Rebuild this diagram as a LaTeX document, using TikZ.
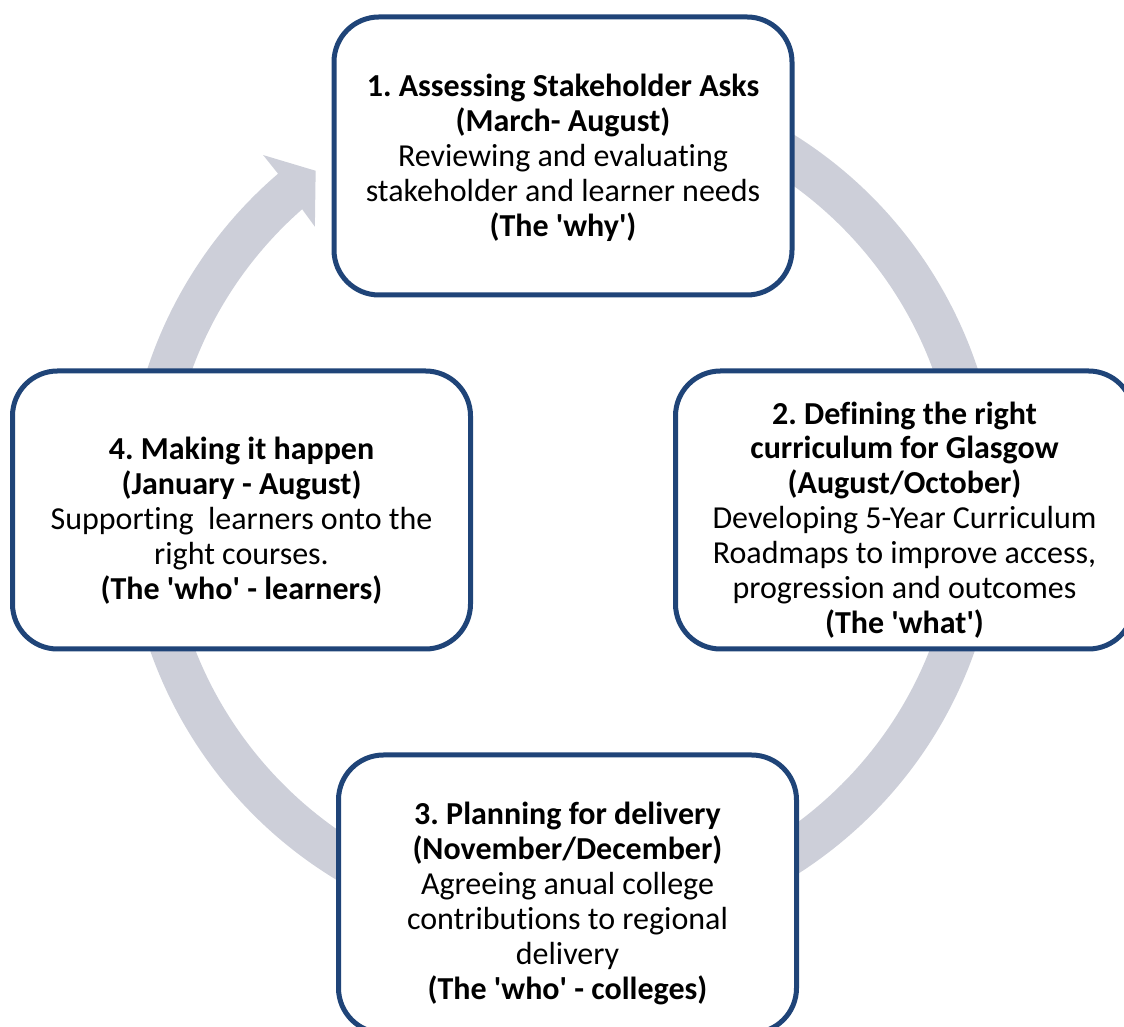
\documentclass[tikz,border=0pt]{standalone}
\usepackage{fontspec}
\setmainfont{Carlito}[Ligatures=NoCommon]
\definecolor{ringc}{RGB}{205,207,217}
\definecolor{boxc}{RGB}{31,68,120}
\newcommand{\sq}{\textquotesingle}
\frenchspacing
\tikzset{
  stage/.style={draw=boxc, line width=5pt, fill=white, rounded corners=45pt,
    minimum width=458pt, minimum height=278pt, inner sep=0pt},
  stagetext/.style={align=center, inner sep=0pt, text=black,
    font=\fontsize{32}{34.9}\selectfont}
}
\begin{document}
\begin{tikzpicture}[x=1pt,y=1pt]
\useasboundingbox (0,0) rectangle (1124,1027);
\clip (0,0) rectangle (1124,1027);
\coordinate (c) at (562.5,521.4);
% cycle ring with arrow head
\fill[ringc, shift={(c)}] (130.5:461) -- (126.4:416) -- (131.6:373) -- (131.3:394.5)
  arc[start angle=131.3, end angle=435, radius=394.5]
  -- (435:437.1)
  arc[start angle=435, end angle=130.6, radius=437.1] -- cycle;
% boxes
\node[stage] (b1) at (563,871) {};
\node[stagetext] (t1) at (563,869) {\textbf{1. Assessing Stakeholder Asks}\\\textbf{(March- August)}\\Reviewing and evaluating\\stakeholder and learner needs\\\textbf{(The \sq why\sq)}};
\node[stage] (b2) at (904.5,517) {};
\node[stagetext] (t2) at (904.5,507) {\textbf{2. Defining the right}\\\textbf{curriculum for Glasgow}\\\textbf{(August/October)}\\Developing 5-Year Curriculum\\Roadmaps to improve access,\\progression and outcomes\\\textbf{(The \sq what\sq)}};
\node[stage] (b3) at (567.5,133) {};
\node[stagetext] (t3) at (567.5,123.5) {\textbf{3. Planning for delivery}\\\textbf{(November/December)}\\Agreeing anual college\\contributions to regional\\delivery\\\textbf{(The \sq who\sq\ - colleges)}};
\node[stage] (b4) at (241.5,517) {};
\node[stagetext] (t4) at (241.5,506) {\textbf{4. Making it happen}\\\textbf{(January - August)}\\Supporting~~learners onto the\\right courses.\\\textbf{(The \sq who\sq\ - learners)}};
\end{tikzpicture}
\end{document}
